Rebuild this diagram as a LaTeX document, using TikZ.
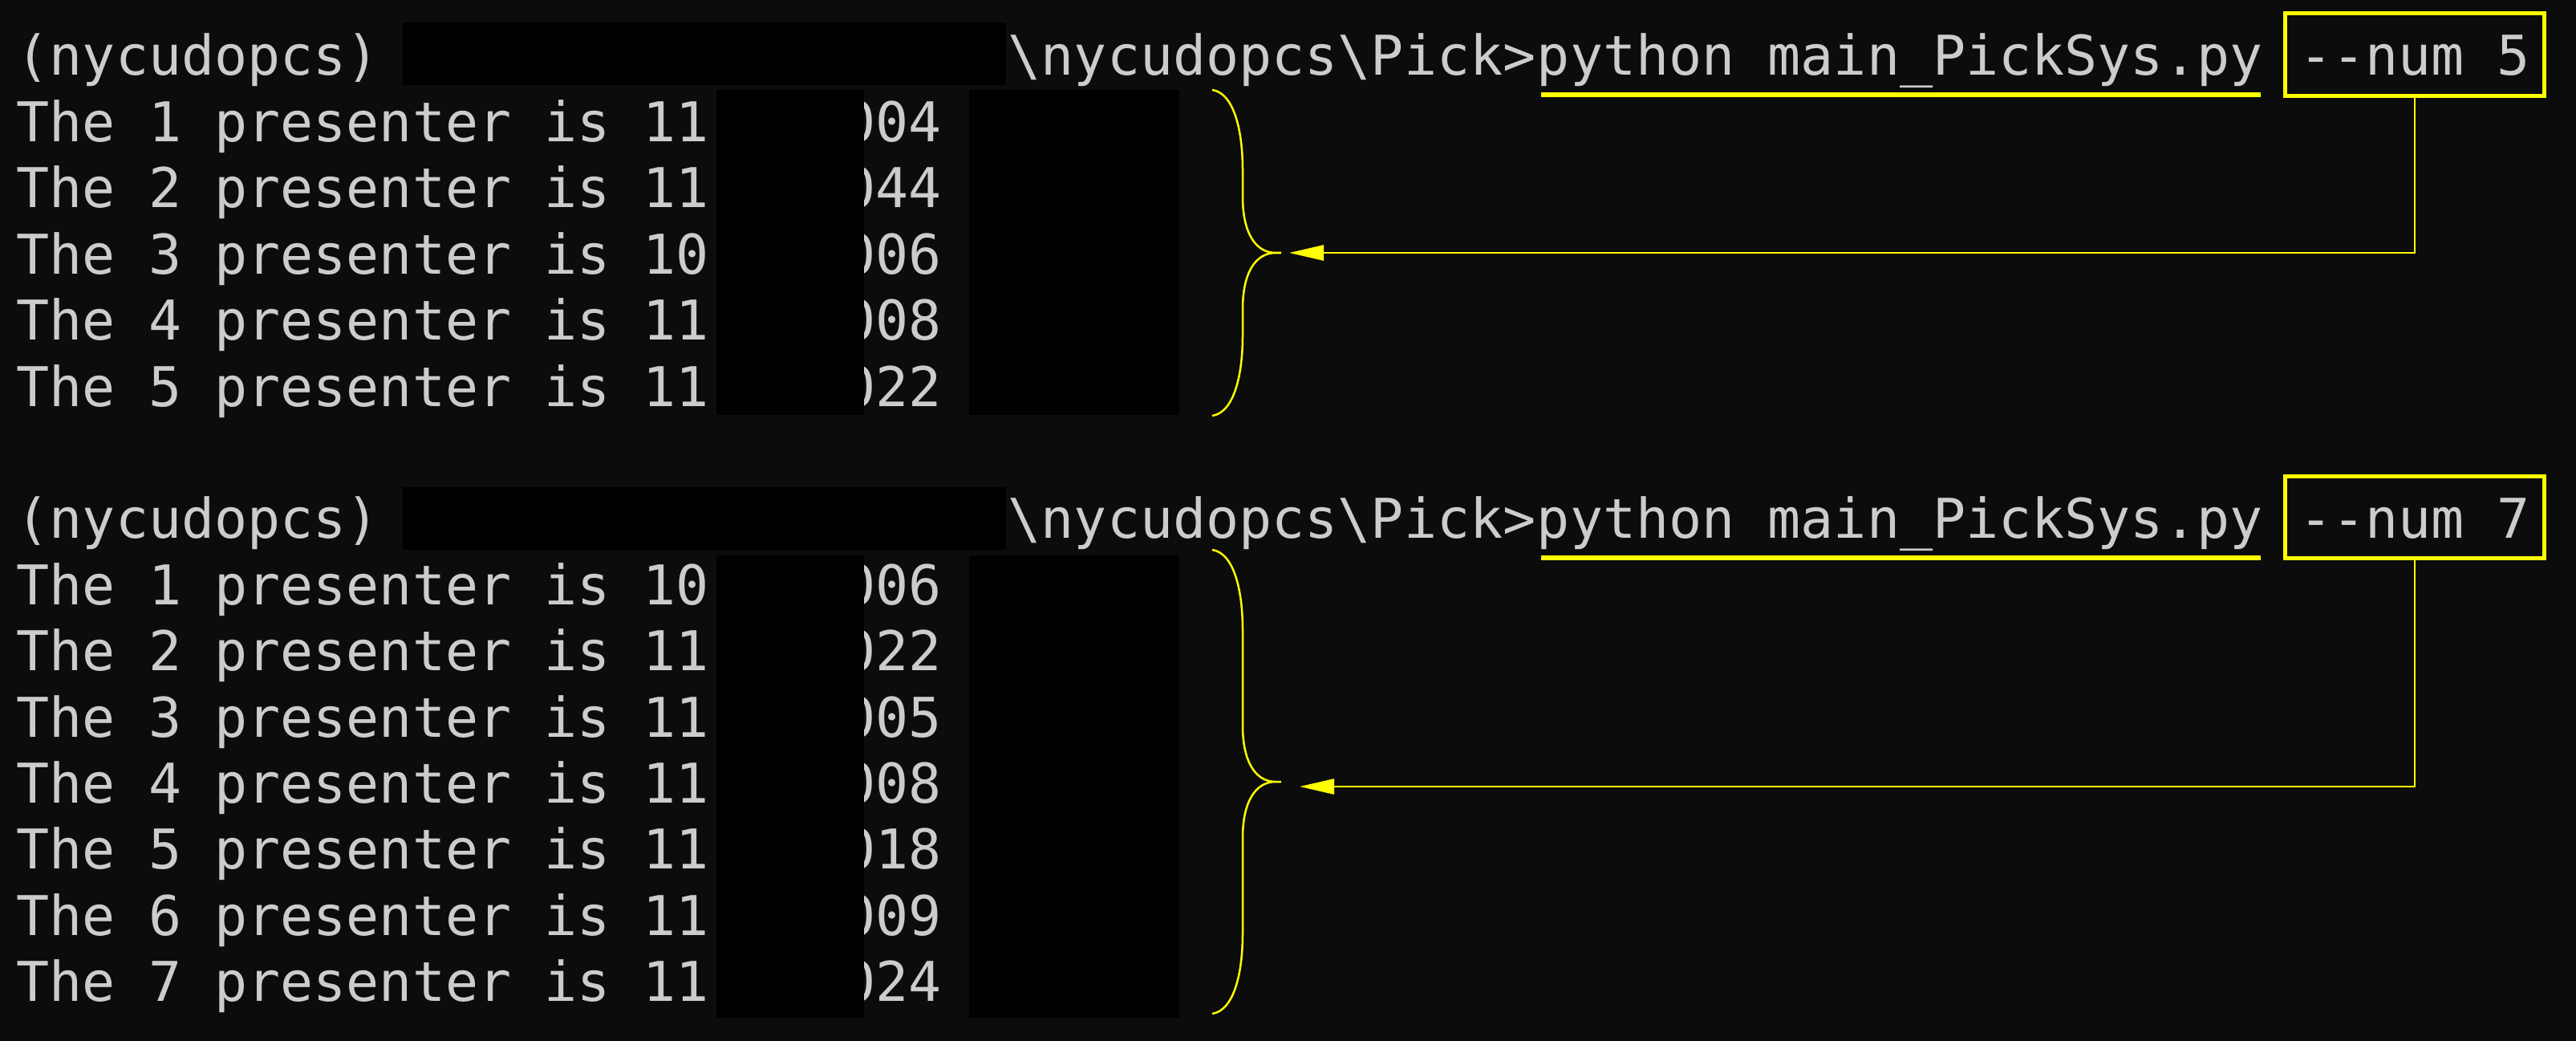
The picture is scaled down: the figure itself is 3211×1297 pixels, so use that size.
\documentclass[tikz,border=0pt]{standalone}
\usepackage{fontspec}
\setmonofont{DejaVu Sans Mono}
\usetikzlibrary{arrows.meta}
\definecolor{termbg}{HTML}{0C0C0C}
\definecolor{termfg}{HTML}{CCCCCC}
\definecolor{marker}{HTML}{FFFF00}
\tikzset{
  term/.style={anchor=base west, inner sep=0pt, text=termfg},
  numbox/.style={draw=marker, line width=0.05cm, anchor=base, inner xsep=0.175cm,
    inner ysep=0pt, text height=0.77cm, text depth=0.25cm, text=termfg},
  hide/.style={fill=black},
  cmdline/.style={draw=marker, line width=0.06cm},
  pickarrow/.style={draw=marker, line width=0.028cm, -{Triangle[length=0.43cm,width=0.19cm]}},
  bracket/.style={draw=marker, line width=0.025cm}
}
\begin{document}
\begin{tikzpicture}[x=0.01cm, y=-0.01cm, font=\ttfamily\fontsize{19.42pt}{23.4pt}\selectfont]
  \useasboundingbox[fill=termbg] (0,0) rectangle (3211,1297);
  % first run
  \node[term] (env1) at (20,94) {(nycudopcs)};
  \node[term] (dir1) at (1256,94) {\textbackslash nycudopcs\textbackslash Pick>};
  \node[term] (cmd1) at (1915.2,94) {python main\_PickSys.py};
  \node[numbox] (num1) at (3010,94) {-{}-num 5};
  \node[term] (p1) at (20,176.4) {The 1 presenter is 11};
  \node[term] (s1) at (1050,176.4) {004};
  \node[term] (p2) at (20,258.8) {The 2 presenter is 11};
  \node[term] (s2) at (1050,258.8) {044};
  \node[term] (p3) at (20,341.2) {The 3 presenter is 10};
  \node[term] (s3) at (1050,341.2) {006};
  \node[term] (p4) at (20,423.6) {The 4 presenter is 11};
  \node[term] (s4) at (1050,423.6) {008};
  \node[term] (p5) at (20,506) {The 5 presenter is 11};
  \node[term] (s5) at (1050,506) {022};
  % second run
  \node[term] (env2) at (20,670.8) {(nycudopcs)};
  \node[term] (dir2) at (1256,670.8) {\textbackslash nycudopcs\textbackslash Pick>};
  \node[term] (cmd2) at (1915.2,670.8) {python main\_PickSys.py};
  \node[numbox] (num2) at (3010,670.8) {-{}-num 7};
  \node[term] (q1) at (20,753.2) {The 1 presenter is 10};
  \node[term] (t1) at (1050,753.2) {006};
  \node[term] (q2) at (20,835.6) {The 2 presenter is 11};
  \node[term] (t2) at (1050,835.6) {022};
  \node[term] (q3) at (20,918) {The 3 presenter is 11};
  \node[term] (t3) at (1050,918) {005};
  \node[term] (q4) at (20,1000.4) {The 4 presenter is 11};
  \node[term] (t4) at (1050,1000.4) {008};
  \node[term] (q5) at (20,1082.8) {The 5 presenter is 11};
  \node[term] (t5) at (1050,1082.8) {018};
  \node[term] (q6) at (20,1165.2) {The 6 presenter is 11};
  \node[term] (t6) at (1050,1165.2) {009};
  \node[term] (q7) at (20,1247.6) {The 7 presenter is 11};
  \node[term] (t7) at (1050,1247.6) {024};
  % blacked out parts
  \fill[hide] (502,28) rectangle (1254,106);
  \fill[hide] (893,112) rectangle (1077,517);
  \fill[hide] (1208,112) rectangle (1470,517);
  \fill[hide] (502,607) rectangle (1254,685);
  \fill[hide] (893,692) rectangle (1077,1268);
  \fill[hide] (1208,692) rectangle (1470,1268);
  % markings
  \draw[cmdline] ([xshift=0.06cm,yshift=-0.24cm]cmd1.base west) -- ([xshift=-0.03cm,yshift=-0.24cm]cmd1.base east);
  \draw[cmdline] ([xshift=0.06cm,yshift=-0.24cm]cmd2.base west) -- ([xshift=-0.03cm,yshift=-0.24cm]cmd2.base east);
  \draw[bracket] (1511,112) .. controls (1538,116) and (1549,162) .. (1549,212) -- (1549,245)
    .. controls (1549,290) and (1565,315) .. (1590,315) -- (1597,315)
    (1590,315) .. controls (1565,315) and (1549,340) .. (1549,385) -- (1549,418)
    .. controls (1549,468) and (1538,514) .. (1511,518);
  \draw[bracket] (1511,685) .. controls (1538,689) and (1549,735) .. (1549,785) -- (1549,904)
    .. controls (1549,949) and (1565,974) .. (1590,974) -- (1597,974)
    (1590,974) .. controls (1565,974) and (1549,999) .. (1549,1044) -- (1549,1163)
    .. controls (1549,1213) and (1538,1259) .. (1511,1263);
  \coordinate (tip1) at (1607,315);
  \coordinate (tip2) at (1620,980);
  \draw[pickarrow] (num1.south) |- (tip1);
  \draw[pickarrow] (num2.south) |- (tip2);
\end{tikzpicture}
\end{document}
